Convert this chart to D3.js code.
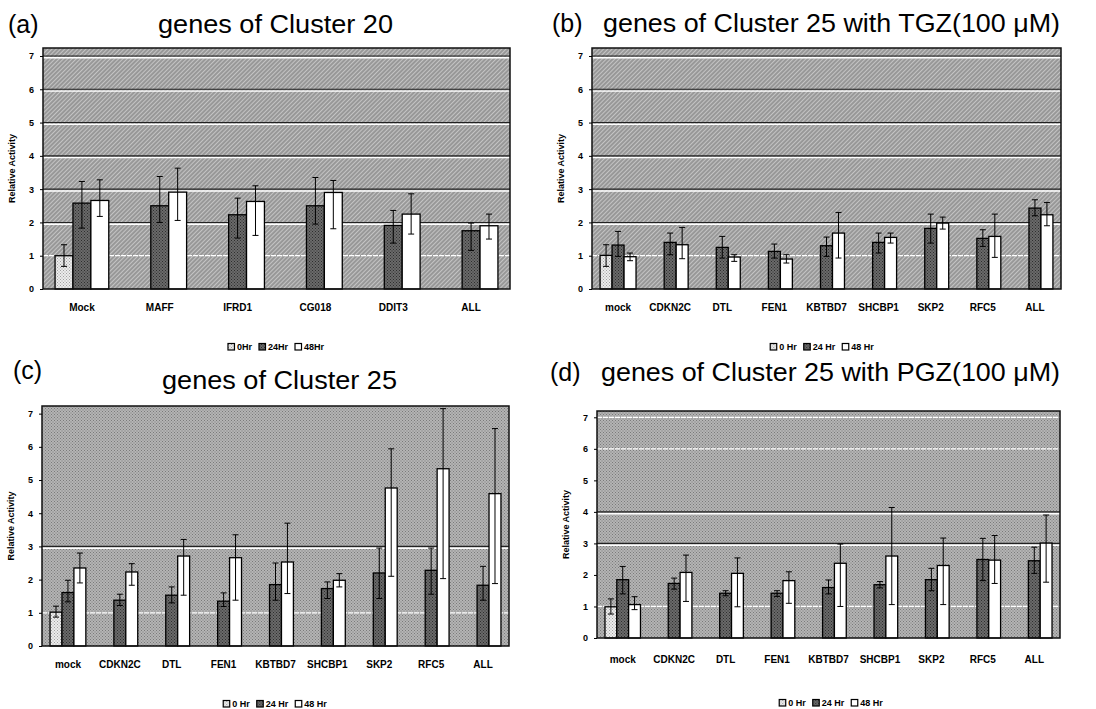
<!DOCTYPE html>
<meta charset="UTF-8">
<script src="https://d3js.org/d3.v7.min.js"></script>
<style>
  body { margin: 0; background: #fff; }
  text { font-family: "Liberation Sans", Arial, sans-serif; }
</style>
<div id="my_dataviz"></div>
<script>

  // Categories
  const genes20 = ["Mock", "MAFF", "IFRD1", "CG018", "DDIT3", "ALL"];
  const genes25 = ["mock", "CDKN2C", "DTL", "FEN1", "KBTBD7", "SHCBP1", "SKP2", "RFC5", "ALL"];
  const series = ["0", "24", "48"];

  // (a) genes of Cluster 20
  const a0  = [1.00, null, null, null, null, null];
  const a24 = [2.58, 2.50, 2.23, 2.50, 1.91, 1.75];
  const a48 = [2.66, 2.91, 2.63, 2.90, 2.25, 1.90];
  const a0Err  = [[0.68, 1.33], null, null, null, null, null];
  const a24Err = [[1.83, 3.23], [2.00, 3.38], [1.53, 2.73], [1.95, 3.35], [1.38, 2.36], [1.16, 1.98]];
  const a48Err = [[2.18, 3.28], [2.06, 3.63], [1.61, 3.10], [1.81, 3.26], [1.65, 2.86], [1.50, 2.25]];

  // (b) Cluster 25 with TGZ
  const b0  = [1.01, null, null, null, null, null, null, null, null];
  const b24 = [1.32, 1.40, 1.25, 1.13, 1.30, 1.40, 1.82, 1.52, 2.43];
  const b48 = [0.97, 1.33, 0.96, 0.90, 1.68, 1.55, 1.98, 1.58, 2.23];
  const b0Err  = [[0.68, 1.33], null, null, null, null, null, null, null, null];
  const b24Err = [[0.98, 1.73], [1.03, 1.68], [0.93, 1.58], [0.93, 1.35], [0.98, 1.56], [1.08, 1.68], [1.38, 2.25], [1.28, 1.78], [2.20, 2.68]];
  const b48Err = [[0.85, 1.08], [0.91, 1.85], [0.83, 1.03], [0.78, 1.03], [0.93, 2.30], [1.38, 1.68], [1.80, 2.16], [0.95, 2.25], [1.90, 2.60]];

  // (c) Cluster 25
  const c0  = [1.02, null, null, null, null, null, null, null, null];
  const c24 = [1.61, 1.38, 1.53, 1.35, 1.85, 1.73, 2.20, 2.28, 1.83];
  const c48 = [2.35, 2.23, 2.71, 2.66, 2.53, 1.98, 4.76, 5.34, 4.59];
  const c0Err  = [[0.87, 1.20], null, null, null, null, null, null, null, null];
  const c24Err = [[1.33, 1.98], [1.22, 1.56], [1.30, 1.78], [1.19, 1.60], [1.38, 2.50], [1.43, 1.93], [1.43, 2.95], [1.56, 2.95], [1.38, 2.40]];
  const c48Err = [[1.90, 2.80], [1.83, 2.48], [1.53, 3.21], [1.38, 3.35], [1.58, 3.70], [1.78, 2.18], [2.10, 5.94], [2.03, 7.15], [1.88, 6.55]];

  // (d) Cluster 25 with PGZ
  const d0  = [0.99, null, null, null, null, null, null, null, null];
  const d24 = [1.85, 1.73, 1.42, 1.42, 1.60, 1.69, 1.85, 2.49, 2.45];
  const d48 = [1.06, 2.08, 2.05, 1.82, 2.37, 2.60, 2.30, 2.47, 3.01];
  const d0Err  = [[0.76, 1.24], null, null, null, null, null, null, null, null];
  const d24Err = [[1.40, 2.27], [1.55, 1.90], [1.34, 1.50], [1.32, 1.50], [1.40, 1.84], [1.59, 1.79], [1.50, 2.21], [1.82, 3.16], [2.05, 2.88]];
  const d48Err = [[0.90, 1.31], [1.16, 2.63], [0.99, 2.54], [1.10, 2.10], [1.00, 2.98], [1.06, 4.14], [1.06, 3.17], [1.73, 3.25], [1.77, 3.90]];

  const yTicks = [0, 1, 2, 3, 4, 5, 6, 7];


  const svg = d3.select("#my_dataviz")
    .append("svg")
    .attr("width", 1096)
    .attr("height", 709);

  // Scan-like fills
  const defs = svg.append("defs");

  function dotted(id, light, dark) {
    const p = defs.append("pattern")
      .attr("id", id)
      .attr("patternUnits", "userSpaceOnUse")
      .attr("width", 3).attr("height", 3);
    p.append("rect").attr("width", 3).attr("height", 3).attr("fill", light);
    p.append("rect").attr("width", 1).attr("height", 1).attr("fill", dark);
    p.append("rect").attr("x", 1.5).attr("y", 1.5).attr("width", 1).attr("height", 1).attr("fill", dark);
  }

  const hatch = defs.append("pattern")
    .attr("id", "hatch")
    .attr("patternUnits", "userSpaceOnUse")
    .attr("width", 3).attr("height", 3)
    .attr("patternTransform", "rotate(45)");
  hatch.append("rect").attr("width", 3).attr("height", 3).attr("fill", "#c4c4c4");
  hatch.append("line").attr("x1", 1).attr("x2", 1).attr("y1", 0).attr("y2", 3)
    .attr("stroke", "#6c6c6c").attr("stroke-width", 1);

  dotted("dots", "#b4b4b4", "#7a7a7a");
  dotted("dark", "#6a6a6a", "#2e2e2e");
  dotted("light", "#ececec", "#a0a0a0");

  const barFill = {"0": "url(#light)", "24": "url(#dark)", "48": "#fff"};


  const panels = [
    {
      tag: "(a)", title: "genes of Cluster 20", legendText: ["0Hr", "24Hr", "48Hr"],
      genes: genes20, vals: [a0, a24, a48], errs: [a0Err, a24Err, a48Err],
      left: 43, right: 510, bottom: 289, top: 48, yMax: 7.24, bg: "url(#hatch)",
      darkGrid: [2, 3, 4, 5, 6, 7], whiteGrid: [1],
      tagX: 8, tagY: 33, titleX: 158, titleY: 33, titleW: 235,
      legendX: 276, legendY: 347, labelPad: 15
    },
    {
      tag: "(b)", title: "genes of Cluster 25 with TGZ(100 \u03bcM)", legendText: ["0 Hr", "24 Hr", "48 Hr"],
      genes: genes25, vals: [b0, b24, b48], errs: [b0Err, b24Err, b48Err],
      left: 592, right: 1061, bottom: 289, top: 48, yMax: 7.24, bg: "url(#hatch)",
      darkGrid: [2, 3, 4, 5, 6, 7], whiteGrid: [1],
      tagX: 552, tagY: 32, titleX: 603, titleY: 32, titleW: 457,
      legendX: 822, legendY: 347, labelPad: 15
    },
    {
      tag: "(c)", title: "genes of Cluster 25", legendText: ["0 Hr", "24 Hr", "48 Hr"],
      genes: genes25, vals: [c0, c24, c48], errs: [c0Err, c24Err, c48Err],
      left: 42, right: 509, bottom: 646, top: 406, yMax: 7.23, bg: "url(#dots)",
      darkGrid: [3], whiteGrid: [1],
      tagX: 13, tagY: 379, titleX: 162, titleY: 389, titleW: 235,
      legendX: 275, legendY: 704, labelPad: 15
    },
    {
      tag: "(d)", title: "genes of Cluster 25 with PGZ(100 \u03bcM)", legendText: ["0 Hr", "24 Hr", "48 Hr"],
      genes: genes25, vals: [d0, d24, d48], errs: [d0Err, d24Err, d48Err],
      left: 597, right: 1060, bottom: 638, top: 411, yMax: 7.2, bg: "url(#dots)",
      darkGrid: [3, 4], whiteGrid: [1, 6, 7],
      tagX: 550, tagY: 381, titleX: 601, titleY: 381, titleW: 459,
      legendX: 831, legendY: 703, labelPad: 18
    }
  ];


  panels.forEach(p => {

    const g = svg.append("g");

    const y = d3.scaleLinear()
      .domain([0, p.yMax])
      .range([p.bottom, p.top]);

    const x0 = d3.scaleBand()
      .domain(p.genes)
      .range([p.left, p.right])
      .paddingInner(0.31)
      .paddingOuter(0.155);

    const x1 = d3.scaleBand()
      .domain(series)
      .range([0, x0.bandwidth()]);

    // Plot background
    g.append("rect")
      .attr("x", p.left).attr("y", p.top)
      .attr("width", p.right - p.left).attr("height", p.bottom - p.top)
      .attr("fill", p.bg);

    // Gridlines
    g.selectAll(".wgrid")
      .data(p.whiteGrid)
      .join("line")
      .attr("x1", p.left).attr("x2", p.right)
      .attr("y1", d => y(d)).attr("y2", d => y(d))
      .attr("stroke", "#fff").attr("stroke-width", 1.3)
      .attr("stroke-dasharray", "5,1");

    g.selectAll(".dgrid-w")
      .data(p.darkGrid)
      .join("line")
      .attr("x1", p.left).attr("x2", p.right)
      .attr("y1", d => y(d) + 1.8).attr("y2", d => y(d) + 1.8)
      .attr("stroke", "#fff").attr("stroke-width", 1.4);

    g.selectAll(".dgrid")
      .data(p.darkGrid)
      .join("line")
      .attr("x1", p.left).attr("x2", p.right)
      .attr("y1", d => y(d)).attr("y2", d => y(d))
      .attr("stroke", "#222").attr("stroke-width", 1.1);

    // flatten values
    const rows = [];
    p.genes.forEach((gene, i) => {
      series.forEach((s, k) => {
        if (p.vals[k][i] != null) {
          rows.push({gene: gene, s: s, v: p.vals[k][i], e: p.errs[k][i]});
        }
      });
    });

    // Bars
    g.selectAll(".bar")
      .data(rows)
      .join("rect")
      .attr("x", d => x0(d.gene) + x1(d.s))
      .attr("y", d => y(d.v))
      .attr("width", x1.bandwidth())
      .attr("height", d => y(0) - y(d.v))
      .attr("fill", d => barFill[d.s])
      .attr("stroke", "#000")
      .attr("stroke-width", 1.3);

    // Error bars
    const eb = g.selectAll(".err")
      .data(rows.filter(d => d.e))
      .join("g")
      .attr("transform", d => `translate(${x0(d.gene) + x1(d.s) + x1.bandwidth() / 2},0)`);

    eb.append("line")
      .attr("y1", d => y(d.e[0])).attr("y2", d => y(d.e[1]))
      .attr("stroke", "#000").attr("stroke-width", 1);
    eb.append("line")
      .attr("x1", -3).attr("x2", 3)
      .attr("y1", d => y(d.e[1])).attr("y2", d => y(d.e[1]))
      .attr("stroke", "#000").attr("stroke-width", 1);
    eb.append("line")
      .attr("x1", -3).attr("x2", 3)
      .attr("y1", d => y(d.e[0])).attr("y2", d => y(d.e[0]))
      .attr("stroke", "#000").attr("stroke-width", 1);

    // Frame
    g.append("rect")
      .attr("x", p.left).attr("y", p.top)
      .attr("width", p.right - p.left).attr("height", p.bottom - p.top)
      .attr("fill", "none")
      .attr("stroke", "#111")
      .attr("stroke-width", 1.5);

    // Axes
    const ya = g.append("g")
      .attr("transform", `translate(${p.left},0)`)
      .call(d3.axisLeft(y).tickValues(yTicks).tickSize(3).tickPadding(6).tickFormat(d3.format("d")));
    ya.select(".domain").remove();
    ya.selectAll("text")
      .style("font-size", "9px")
      .style("font-weight", "bold")
      .style("font-family", "'Liberation Sans', Arial, sans-serif");

    const xa = g.append("g")
      .attr("transform", `translate(0,${p.bottom})`)
      .call(d3.axisBottom(x0).tickSize(0).tickPadding(p.labelPad));
    xa.select(".domain").remove();
    xa.selectAll("text")
      .style("font-size", "10px")
      .style("font-weight", "bold")
      .style("font-family", "'Liberation Sans', Arial, sans-serif");

    // Y-axis label
    g.append("text")
      .attr("transform", "rotate(-90)")
      .attr("x", -(p.top + p.bottom) / 2)
      .attr("y", p.left - 28)
      .attr("text-anchor", "middle")
      .style("font-size", "9px")
      .style("font-weight", "bold")
      .text("Relative Activity");

    // Panel tag and title
    g.append("text")
      .attr("x", p.tagX).attr("y", p.tagY)
      .style("font-size", "25px")
      .text(p.tag);

    g.append("text")
      .attr("x", p.titleX).attr("y", p.titleY)
      .attr("textLength", p.titleW)
      .attr("lengthAdjust", "spacingAndGlyphs")
      .style("font-size", "25px")
      .text(p.title);

    // Legend
    const lg = g.append("g");
    let cx = 0;
    p.legendText.forEach((t, k) => {
      lg.append("rect")
        .attr("x", cx).attr("y", -3.5)
        .attr("width", 6.5).attr("height", 6.5)
        .attr("fill", barFill[series[k]])
        .attr("stroke", "#000").attr("stroke-width", 1.2);
      const tx = lg.append("text")
        .attr("x", cx + 9).attr("y", 3.2)
        .style("font-size", "9px")
        .style("font-weight", "bold")
        .text(t);
      cx += 9 + tx.node().getComputedTextLength() + 7;
    });
    lg.attr("transform", `translate(${p.legendX - (cx - 7) / 2},${p.legendY})`);
  });

</script>
